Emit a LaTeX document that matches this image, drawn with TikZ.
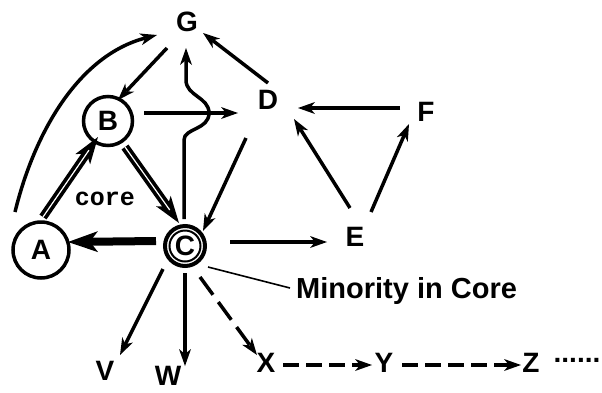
\documentclass[tikz,border=0pt]{standalone}
\usepackage{fontspec}
\setmainfont{Liberation Sans}
\newfontfamily\corefont{Liberation Mono}
\usetikzlibrary{arrows.meta,calc}
\begin{document}
\begin{tikzpicture}[x=1pt,y=-1pt,
  lbl/.style={font=\bfseries\fontsize{28}{28}\selectfont, inner sep=0pt},
  ring/.style={circle, draw, line width=3.5pt, inner sep=0pt},
  edge/.style={line width=3.5pt, -{Stealth[length=17pt,width=12pt,inset=5pt,line width=0pt]}},
  thickedge/.style={line width=8pt, -{Stealth[length=30pt,width=21pt,inset=8pt,line width=0pt]}},
  dbledge/.style={line width=8.5pt, -{Stealth[length=27pt,width=18pt,inset=7pt,line width=0pt]}},
  dblgap/.style={white, line width=1.2pt, shorten >=16pt},
  dashedge/.style={edge, dash pattern=on 16pt off 7pt},
  thinline/.style={line width=1.6pt},
]
\useasboundingbox (0,0) rectangle (602,392);

% nodes
\node[lbl] (G) at (187,22) {G};
\node[lbl] (D) at (268,100) {D};
\node[lbl] (F) at (426,112) {F};
\node[lbl] (E) at (355,237) {E};
\node[lbl] (V) at (105,371) {V};
\node[lbl] (W) at (168,376) {W};
\node[lbl] (X) at (266,363) {X};
\node[lbl] (Y) at (384,363) {Y};
\node[lbl] (Z) at (531,363) {Z};
\node[lbl, anchor=base] (dots) at (577,362) {......};
\node[ring, lbl, minimum size=49pt] (B) at (108,121) {B};
\node[ring, lbl, minimum size=56pt] (A) at (41,250) {A};
\node[ring, lbl, line width=4pt, minimum size=40pt] (C) at (185,246) {C};
\draw[line width=2pt] (C.center) circle (15.5);
\node[font=\corefont\bfseries\fontsize{25}{25}\selectfont, inner sep=0pt] (core) at (105,199) {core};
\node[lbl, anchor=base west, font=\bfseries\fontsize{29}{29}\selectfont] (M) at (296,298) {Minority in Core};

% edges
\draw[edge] ($(A)+(-26,-38)$) .. controls (35,130) and (80,55) .. ($(G)+(-30,13)$);
\draw[edge] ($(G)+(-20,26)$) -- ($(B)+(10,-21)$);
\draw[edge] ($(C)+(-1,-27)$) -- (184,140) .. controls (184,128) and (209,130) .. (209,113)
   .. controls (209,97) and (186,96) .. (186,80) -- ($(G)+(-1,26)$);
\draw[edge] ($(D)+(0,-17)$) -- ($(G)+(16,11)$);
\draw[edge] ($(B)+(36,-8)$) -- ($(D)+(-30,13)$);
\draw[edge] ($(D)+(-22,38)$) -- ($(C)+(18,-15)$);
\draw[edge] ($(F)+(-26,-4)$) -- ($(D)+(30,8)$);
\draw[edge] ($(E)+(-5,-29)$) -- ($(D)+(26,19)$);
\draw[edge] ($(E)+(16,-25)$) -- ($(F)+(-17,12)$);
\draw[edge] ($(C)+(45,-4)$) -- ($(E)+(-28,5)$);
\draw[thickedge] ($(C)+(-29,-5)$) -- ($(A)+(27,-8)$);
\draw[dbledge] ($(A)+(2,-33)$) -- ($(B)+(-10,16)$);
\draw[dblgap] ($(A)+(2,-33)$) -- ($(B)+(-10,16)$);
\draw[dbledge] ($(B)+(17,26)$) -- ($(C)+(-6,-23)$);
\draw[dblgap] ($(B)+(17,26)$) -- ($(C)+(-6,-23)$);
\draw[edge] ($(C)+(-22,23)$) -- ($(V)+(15,-16)$);
\draw[edge] ($(C)+(0,27)$) -- ($(W)+(17,-10)$);
\draw[dashedge, dash pattern=on 22pt off 9pt] ($(C)+(15,31)$) -- ($(X)+(-9,-8)$);
\draw[dashedge] ($(X)+(17,2)$) -- ($(Y)+(-12,2)$);
\draw[dashedge] ($(Y)+(18,2)$) -- ($(Z)+(-10,2)$);
\draw[thinline] ($(C)+(23,21)$) -- ($(M.base west)+(-6,-10)$);
\end{tikzpicture}
\end{document}
